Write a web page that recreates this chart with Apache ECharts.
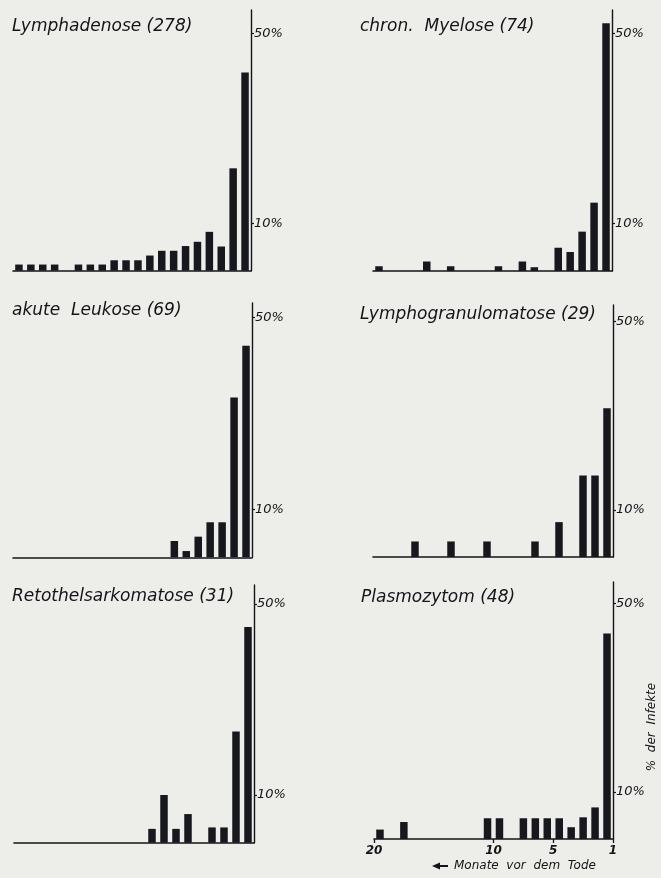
<!DOCTYPE html>
<html><head><meta charset="utf-8">
<script src="https://cdn.jsdelivr.net/npm/echarts@6/dist/echarts.min.js"></script>
<style>html,body{margin:0;padding:0;background:#edede9}#c{width:661px;height:878px}</style>
</head><body><div id="c"></div>
<script>
// months before death (left = 20 months, right = 1 month)
const months = ['20','19','18','17','16','15','14','13','12','11','10','9','8','7','6','5','4','3','2','1'];

// % of infections per month
const lymphadenose        = [1.3,1.3,1.3,1.3,0,1.3,1.3,1.3,2.2,2.2,2.2,3.2,4.2,4.2,5.2,6.1,8.2,5.1,21.6,41.8];
const chronMyelose        = [1.0,0,0,0,2.0,0,1.0,0,0,0,1.0,0,2.0,0.8,0,4.9,4.0,8.3,14.4,52.2];
const akuteLeukose        = [0,0,0,0,0,0,0,0,0,0,0,0,0,3.4,1.3,4.3,7.3,7.3,33.3,44.1];
const lymphogranulomatose = [0,0,0,3.3,0,0,3.3,0,0,3.3,0,0,0,3.3,0,7.4,0,17.3,17.3,31.6];
const retothelsarkomatose = [0,0,0,0,0,0,0,0,0,0,0,2.9,10.0,2.9,6.0,0,3.2,3.2,23.3,45.2];
const plasmozytom         = [2.0,0,3.6,0,0,0,0,0,0,4.4,4.4,0,4.4,4.4,4.4,4.4,2.5,4.6,6.7,43.6];

const panelTitles = ['Lymphadenose (278)','chron.  Myelose (74)','akute  Leukose (69)',
                     'Lymphogranulomatose (29)','Retothelsarkomatose (31)','Plasmozytom (48)'];
const yTickValues = [10, 50];
const xTickValues = [20, 10, 5, 0];
const xTickLabels = ['20','10','5','1'];

const panelData = [lymphadenose, chronMyelose, akuteLeukose, lymphogranulomatose, retothelsarkomatose, plasmozytom];

// layout (px)
const layout = [
  {left:13,  right:251, top:10,  base:270.7, max:55,   tx:12,  ty:26.2},
  {left:373, right:612, top:10,  base:271,   max:55,   tx:360, ty:26.5},
  {left:13,  right:252, top:303, base:557.3, max:53,   tx:12,  ty:311},
  {left:373, right:613, top:305, base:557,   max:53.5, tx:360, ty:314.5},
  {left:14,  right:254, top:585, base:842.7, max:54,   tx:12,  ty:596.7},
  {left:374, right:613, top:582, base:839,   max:54.5, tx:361, ty:597.5}
];

const ink = '#141419';
const barColor = '#17181e';
const FONT = '"DejaVu Sans", sans-serif';

const grid = [], xAxis = [], yAxis = [], series = [], graphic = [];
layout.forEach((L, i) => {
  grid.push({left:L.left, top:L.top, width:L.right-L.left, height:L.base-L.top, outerBoundsMode:'none', containLabel:false});
  xAxis.push({
    type:'category', gridIndex:i, data:months, boundaryGap:true, position:'bottom',
    axisLine:{show:true, lineStyle:{color:ink, width:1.6}},
    axisTick:{show:false}, axisLabel:{show:false}, splitLine:{show:false}
  });
  yAxis.push({
    type:'value', gridIndex:i, position:'right', min:0, max:L.max,
    axisLine:{show:true, lineStyle:{color:ink, width:1.4}},
    splitLine:{show:false},
    axisTick:{show:true, customValues:yTickValues, length:3, lineStyle:{color:ink, width:1.2}},
    axisLabel:{show:true, customValues:yTickValues, formatter:'{value}%', margin:3,
      color:ink, fontFamily:FONT, fontStyle:'italic', fontSize:13}
  });
  series.push({
    type:'bar', xAxisIndex:i, yAxisIndex:i, data:panelData[i], barWidth:7.5,
    itemStyle:{color:barColor}, silent:true, animation:false
  });
  graphic.push({type:'text', x:L.tx, y:L.ty, silent:true,
    style:{text:panelTitles[i], fill:ink, font:'italic 17px ' + FONT, verticalAlign:'middle'}});
});

// labelled month axis for the last panel
xAxis.push({
  type:'value', gridIndex:5, min:0, max:20, inverse:true, position:'bottom',
  axisLine:{show:false}, splitLine:{show:false},
  axisTick:{show:true, customValues:xTickValues, length:4, lineStyle:{color:ink, width:1.3}},
  axisLabel:{show:true, customValues:xTickValues, margin:6,
    formatter:(v) => xTickLabels[xTickValues.indexOf(v)],
    color:ink, fontFamily:FONT, fontStyle:'italic', fontWeight:'bold', fontSize:12}
});

// axis captions
graphic.push({type:'polygon', silent:true, shape:{points:[[432,866],[440,862.5],[440,869.5]]}, style:{fill:ink}});
graphic.push({type:'line', silent:true, shape:{x1:438, y1:866, x2:448, y2:866}, style:{stroke:ink, lineWidth:2}});
graphic.push({type:'text', x:454, y:866, silent:true,
  style:{text:'Monate  vor  dem  Tode', fill:ink, font:'italic 12px ' + FONT, verticalAlign:'middle'}});
graphic.push({type:'text', x:652, y:727, rotation:Math.PI/2, silent:true,
  style:{text:'%  der  Infekte', fill:ink, font:'italic 12px ' + FONT, align:'center', verticalAlign:'middle'}});

const chart = echarts.init(document.getElementById('c'), null, {renderer:'canvas'});
chart.setOption({
  backgroundColor:'#edede9',
  animation:false,
  grid, xAxis, yAxis, series, graphic
});
</script>
</body></html>
